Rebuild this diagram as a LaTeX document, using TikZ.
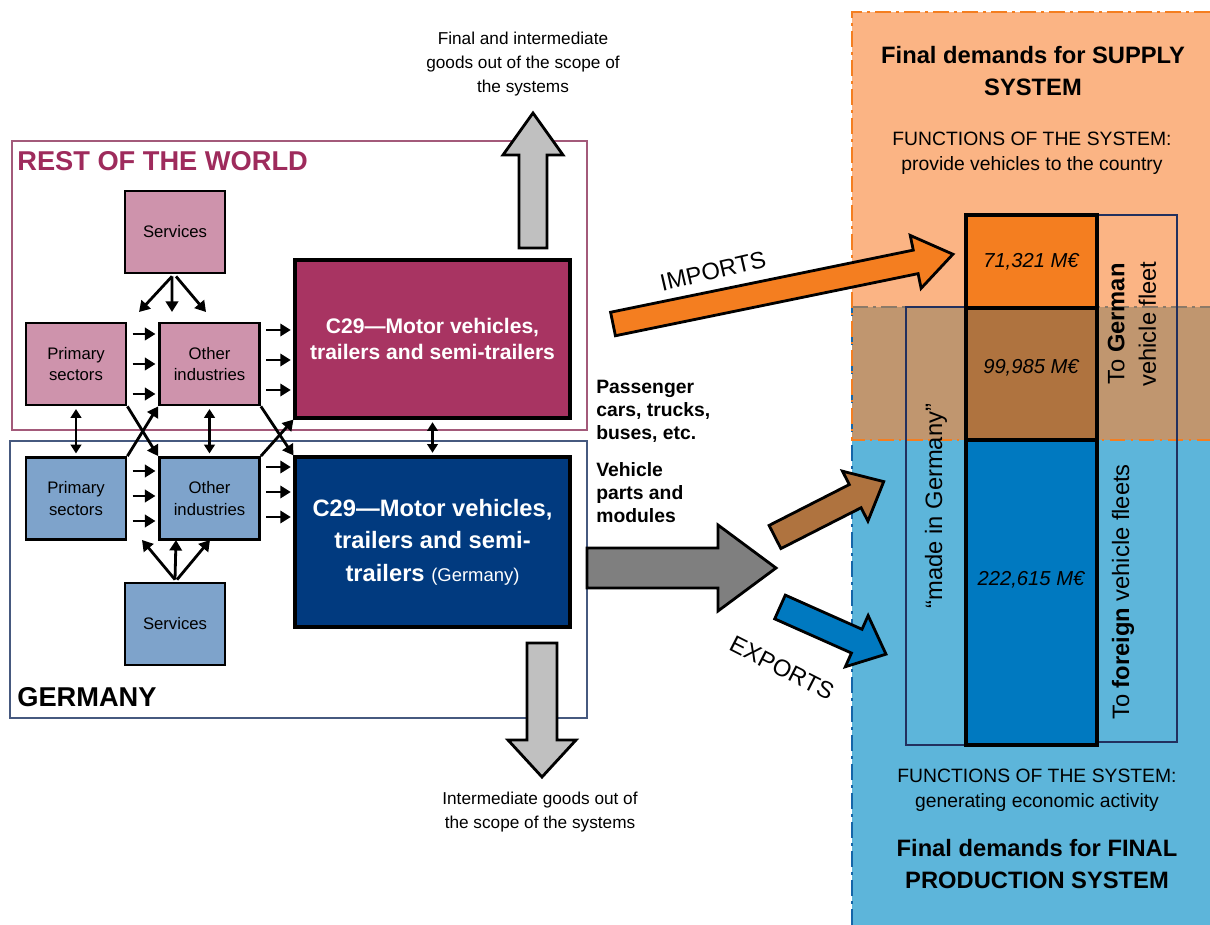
\documentclass[tikz,border=0pt]{standalone}
\usepackage{fontspec}
\setmainfont{Liberation Sans}
\usetikzlibrary{arrows.meta,calc}
\definecolor{pinkbox}{HTML}{CE93AC}
\definecolor{rowcar}{HTML}{A83462}
\definecolor{rowtitle}{HTML}{9E2B5C}
\definecolor{rowborder}{HTML}{A35A7A}
\definecolor{bluebox}{HTML}{7EA3CB}
\definecolor{decar}{HTML}{013A7F}
\definecolor{deborder}{HTML}{46597F}
\definecolor{panelorange}{HTML}{FBB484}
\definecolor{paneloverlap}{HTML}{C0966F}
\definecolor{panelblue}{HTML}{5DB5DA}
\definecolor{barorange}{HTML}{F47E20}
\definecolor{barbrown}{HTML}{AF733F}
\definecolor{barblue}{HTML}{0079C0}
\definecolor{lightgrayarrow}{HTML}{C0C0C0}
\definecolor{darkgrayarrow}{HTML}{7F7F7F}
\definecolor{thinnavy}{HTML}{22305E}
\definecolor{dashorange}{HTML}{F47E20}
\definecolor{dashblue}{HTML}{1565A8}
\definecolor{dashgray}{HTML}{8C7A68}
\tikzset{
  sect/.style={draw=black, line width=1.6pt, minimum width=2cm, minimum height=1.64cm,
    align=center, inner sep=0pt, font=\fontsize{9.5}{12}\selectfont},
  carbox/.style={draw=black, line width=1.8pt, minimum width=5.5cm, align=center,
    inner sep=0pt, text=white},
  arr/.style={line width=1.6pt, -{Triangle[length=6pt,width=7pt]}},
  darr/.style={line width=1.6pt, {Triangle[length=5pt,width=6pt]}-{Triangle[length=5pt,width=6pt]}},
  panelline/.style={line width=1.6pt, dash pattern=on 9pt off 3pt on 1.5pt off 3pt},
  plain/.style={align=center, inner sep=0pt},
  pics/barrow/.style args={#1/#2/#3/#4}{code={
    \draw[pic actions] (0,#2/2) -- (#1-#4,#2/2) -- (#1-#4,#3/2) -- (#1,0)
      -- (#1-#4,-#3/2) -- (#1-#4,-#2/2) -- (0,-#2/2) -- cycle;}},
}
\begin{document}
\begin{tikzpicture}[x=0.02cm, y=-0.02cm]
\useasboundingbox[fill=white] (0,0) rectangle (1210,925);

% ---------- right panels ----------
\fill[panelblue] (852,307) rectangle (1210,925);
\fill[panelorange] (852,12) rectangle (1210,307);
\fill[paneloverlap] (852,307) rectangle (1210,440);
\draw[panelline, dashblue] (852,925) -- (852,307);
\draw[panelline, dashgray] (852,307) -- (1210,307);
\draw[panelline, dashorange] (1210,12) -- (852,12) -- (852,440) -- (1210,440);

\node[plain, font=\fontsize{13.5}{18}\selectfont\bfseries] (supplytitle) at (1033,71) {Final demands for SUPPLY\\SYSTEM};
\node[plain, font=\fontsize{11}{14}\selectfont] (supplyfun) at (1032,153) {FUNCTIONS OF THE SYSTEM:\\provide vehicles to the country};
\node[plain, font=\fontsize{11}{14}\selectfont] (prodfun) at (1037,790) {FUNCTIONS OF THE SYSTEM:\\generating economic activity};
\node[plain, font=\fontsize{13.5}{18}\selectfont\bfseries] (prodtitle) at (1037,864) {Final demands for FINAL\\PRODUCTION SYSTEM};

% thin side frames
\draw[thinnavy, line width=0.6pt] (906,307) rectangle (966,745);
\draw[thinnavy, line width=0.6pt] (1097,215) rectangle (1177,742);

% bar
\fill[barorange] (966,215) rectangle (1097,308);
\fill[barbrown] (966,308) rectangle (1097,440);
\fill[barblue] (966,440) rectangle (1097,745);
\draw[line width=1.8pt] (966,308) -- (1097,308) (966,440) -- (1097,440);
\draw[line width=1.8pt] (966,215) rectangle (1097,745);
\node[plain, font=\fontsize{11.5}{14}\selectfont\itshape] (v1) at (1031,262) {71,321 M€};
\node[plain, font=\fontsize{11.5}{14}\selectfont\itshape] (v2) at (1031,368) {99,985 M€};
\node[plain, font=\fontsize{11.5}{14}\selectfont\itshape] (v3) at (1031,580) {222,615 M€};

\node[plain, rotate=90, font=\fontsize{13.5}{18}\selectfont] (german) at (1132,324) {To \textbf{German}\\vehicle fleet};
\node[plain, rotate=90, font=\fontsize{13.5}{18}\selectfont] (foreign) at (1123,592) {To \textbf{foreign} vehicle fleets};
\node[plain, rotate=90, font=\fontsize{13.5}{18}\selectfont] (made) at (936,506) {“made in Germany”};

% ---------- region frames ----------
\draw[rowborder, line width=0.7pt] (12,141) rectangle (587,430);
\draw[deborder, line width=0.7pt] (10,441) rectangle (587,718);
\node[anchor=west, inner sep=0pt, text=rowtitle, font=\fontsize{15.5}{18}\selectfont\bfseries] (rowlabel) at (17,161) {REST OF THE WORLD};
\node[anchor=west, inner sep=0pt, font=\fontsize{15.5}{18}\selectfont\bfseries] (delabel) at (17,697) {GERMANY};

% ---------- sector boxes ----------
\node[sect, fill=pinkbox] (sr) at (175,232) {Services};
\node[sect, fill=pinkbox] (pr) at (76,364) {Primary\\sectors};
\node[sect, fill=pinkbox] (or) at (209.5,364) {Other\\industries};
\node[carbox, fill=rowcar, minimum height=3.16cm, font=\fontsize{12}{15}\selectfont\bfseries] (cr) at (432.5,339) {C29—Motor vehicles,\\trailers and semi-trailers};

\node[sect, fill=bluebox] (pd) at (76,498.5) {Primary\\sectors};
\node[sect, fill=bluebox] (od) at (209.5,498.5) {Other\\industries};
\node[sect, fill=bluebox] (sd) at (175,624) {Services};
\node[carbox, fill=decar, minimum height=3.4cm, font=\fontsize{13.5}{18.5}\selectfont\bfseries] (cd) at (432.5,542) {C29—Motor vehicles,\\trailers and semi-\\trailers {\mdseries\fontsize{10.5}{18.5}\selectfont (Germany)}};

% horizontal arrows
\foreach \yy in {334,364,394} {
  \draw[arr, shorten <=3pt, shorten >=1.5pt] (pr.east |- 0,\yy) -- (or.west |- 0,\yy);
}
\foreach \yy in {330,360,390} {
  \draw[arr, shorten <=3pt, shorten >=1.5pt] (or.east |- 0,\yy) -- (cr.west |- 0,\yy);
}
\foreach \yy in {471,496,521} {
  \draw[arr, shorten <=3pt, shorten >=1.5pt] (pd.east |- 0,\yy) -- (od.west |- 0,\yy);
}
\foreach \yy in {467,492,517} {
  \draw[arr, shorten <=3pt, shorten >=1.5pt] (od.east |- 0,\yy) -- (cd.west |- 0,\yy);
}

% services arrows
\coordinate (srA) at (139,312);
\coordinate (srB) at (172,312);
\coordinate (srC) at (206,312);
\draw[arr] ([xshift=-0.06cm,yshift=-0.04cm]sr.south) -- (srA);
\draw[arr] ([xshift=-0.06cm,yshift=-0.04cm]sr.south) -- (srB);
\draw[arr] ([xshift=0.02cm,yshift=-0.04cm]sr.south) -- (srC);
\coordinate (sdA) at (142,540);
\coordinate (sdB) at (176,540);
\coordinate (sdC) at (210,540);
\draw[arr] ([yshift=0.04cm]sd.north) -- (sdA);
\draw[arr] ([yshift=0.04cm]sd.north) -- (sdB);
\draw[arr] ([xshift=0.04cm,yshift=0.04cm]sd.north) -- (sdC);

% vertical links
\draw[darr, shorten <=1.5pt, shorten >=1.5pt] (pr.south) -- (pd.north);
\draw[darr, shorten <=1.5pt, shorten >=1.5pt] (or.south) -- (od.north);
\draw[darr, shorten <=1.5pt, shorten >=1.5pt] (cr.south) -- (cr.south |- cd.north);

% crossing links
\draw[arr] (pr.south east) -- (od.north west);
\draw[arr] (pd.north east) -- (or.south west);
\draw[arr] (or.south east) -- (cd.north west);
\draw[arr] (od.north east) -- (cr.south west);

% ---------- labels near C29 ----------
\node[anchor=north west, align=left, inner sep=0pt, font=\fontsize{11}{13}\selectfont\bfseries] (passlabel) at (596,380) {Passenger\\cars, trucks,\\buses, etc.};
\node[anchor=north west, align=left, inner sep=0pt, font=\fontsize{11}{13}\selectfont\bfseries] (partlabel) at (596,462) {Vehicle\\parts and\\modules};

% ---------- block arrows ----------
\pic[draw=black, line width=1.6pt, fill=lightgrayarrow, rotate=90] at (533,248) {barrow={135/28/60/42}};
\pic[draw=black, line width=1.6pt, fill=lightgrayarrow, rotate=-90] at (542,643) {barrow={134/30/68/37}};
\pic[draw=black, line width=1.6pt, fill=darkgrayarrow] at (587,568) {barrow={189/40/86/58}};
\pic[draw=black, line width=1.6pt, fill=barorange, rotate=11.6] at (613,324) {barrow={347/24/54/38}};
\pic[draw=black, line width=1.6pt, fill=barbrown, rotate=27] at (775,537) {barrow={122/26/56/32}};
\pic[draw=black, line width=1.6pt, fill=barblue, rotate=-24] at (780,607) {barrow={116/26/56/32}};

\node[plain, rotate=13, font=\fontsize{13.5}{16}\selectfont] (imports) at (713,271) {IMPORTS};
\node[plain, rotate=-27, font=\fontsize{13.5}{16}\selectfont] (exports) at (782,668) {EXPORTS};

\node[plain, font=\fontsize{9.8}{13.5}\selectfont] (outtop) at (523,64) {Final and intermediate\\goods out of the scope of\\the systems};
\node[plain, font=\fontsize{9.8}{13.5}\selectfont] (outbottom) at (540,812) {Intermediate goods out of\\the scope of the systems};
\end{tikzpicture}
\end{document}
